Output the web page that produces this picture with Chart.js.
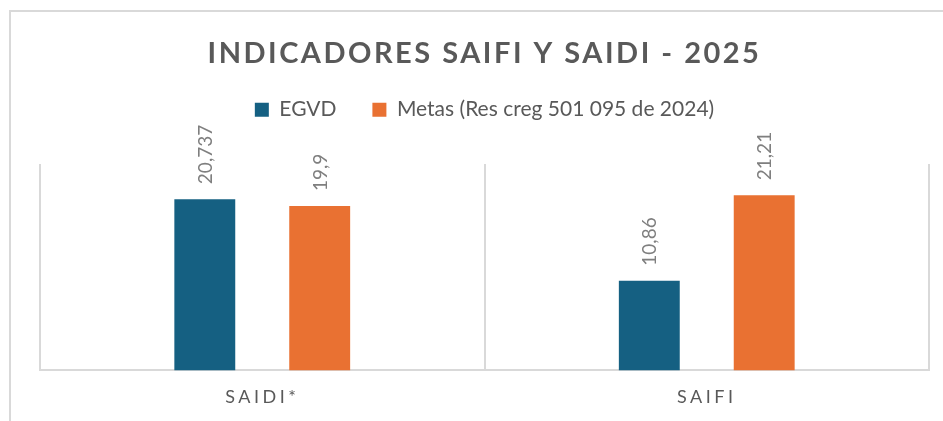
<!DOCTYPE html>
<html><head><meta charset="utf-8">
<script src="https://cdn.jsdelivr.net/npm/chart.js@4.4.1/dist/chart.umd.min.js"></script>
<style>
html,body{margin:0;padding:0;background:#fff;}
#wrap{position:relative;width:943px;height:421px;overflow:hidden;background:#fff;}
#frame{position:absolute;left:9px;top:10px;width:1000px;height:500px;border-left:2px solid #d9d9d9;border-top:2px solid #d9d9d9;}
canvas{position:absolute;left:0;top:0;}
</style></head><body>
<div id="wrap"><div id="frame"></div><canvas id="c" width="943" height="421"></canvas></div>
<script>
const categories = ['SAIDI*', 'SAIFI'];
const seriesNames = ['EGVD', 'Metas (Res creg 501 095 de 2024)'];
const egvdValues = [20.737, 10.86];
const metasValues = [19.9, 21.21];
const yMin = 0;
const yMax = 25;
const chartTitle = 'INDICADORES SAIFI Y SAIDI - 2025';

const FONT = 'Lato';

const spacingPlugin = {
  id: 'spacing',
  beforeDraw(chart) {
    const t = chart.titleBlock;
    if (t && !t._sp) {
      const o = t.draw;
      t.draw = function (...a) { const c = this.ctx; c.save(); c.letterSpacing = '2.5px'; o.apply(this, a); c.restore(); };
      t._sp = true;
    }
    const x = chart.scales.x;
    if (x && !x._sp) {
      const o = x.drawLabels;
      x.drawLabels = function (...a) { const c = this.ctx; c.save(); c.letterSpacing = '3.5px'; o.apply(this, a); c.restore(); };
      x._sp = true;
    }
  }
};

const valueLabels = {
  id: 'valueLabels',
  afterDatasetsDraw(chart) {
    const ctx = chart.ctx;
    chart.data.datasets.forEach((ds, di) => {
      const meta = chart.getDatasetMeta(di);
      meta.data.forEach((bar, i) => {
        const txt = String(ds.data[i]).replace('.', ',');
        ctx.save();
        ctx.translate(bar.x, bar.y - 15);
        ctx.rotate(-Math.PI / 2);
        ctx.font = '19px ' + FONT;
        ctx.fillStyle = '#7f7f7f';
        ctx.textAlign = 'left';
        ctx.textBaseline = 'middle';
        ctx.fillText(txt, 0, 1);
        ctx.restore();
      });
    });
  }
};

new Chart(document.getElementById('c'), {
  type: 'bar',
  data: {
    labels: categories,
    datasets: [
      { label: seriesNames[0], data: egvdValues, backgroundColor: '#156082', borderWidth: 0, barPercentage: 0.53, categoryPercentage: 0.517 },
      { label: seriesNames[1], data: metasValues, backgroundColor: '#E97132', borderWidth: 0, barPercentage: 0.53, categoryPercentage: 0.517 }
    ]
  },
  options: {
    responsive: false,
    animation: false,
    devicePixelRatio: 1,
    layout: { padding: { left: 40, right: 14, top: 0, bottom: -3 } },
    plugins: {
      tooltip: { enabled: false },
      title: {
        display: true, text: chartTitle, color: '#595959',
        font: { family: FONT, size: 29, weight: 'bold', lineHeight: 0.66 },
        padding: { top: 44, bottom: 0 }
      },
      legend: {
        position: 'top',
        labels: { boxWidth: 14, boxHeight: 14, padding: 36, color: '#595959', font: { family: FONT, size: 21 } }
      },
      subtitle: {
        display: true, text: '', weight: 500,
        font: { size: 10, lineHeight: 1 },
        padding: { top: 0, bottom: 23.8 }
      }
    },
    scales: {
      x: {
        grid: { display: true, color: '#d9d9d9', lineWidth: 2, drawTicks: false, offset: true },
        border: { display: true, color: '#d9d9d9', width: 2 },
        ticks: { color: '#595959', font: { family: FONT, size: 18 }, padding: 16 }
      },
      y: { display: false, min: yMin, max: yMax }
    }
  },
  plugins: [spacingPlugin, valueLabels]
});
</script>
</body></html>
